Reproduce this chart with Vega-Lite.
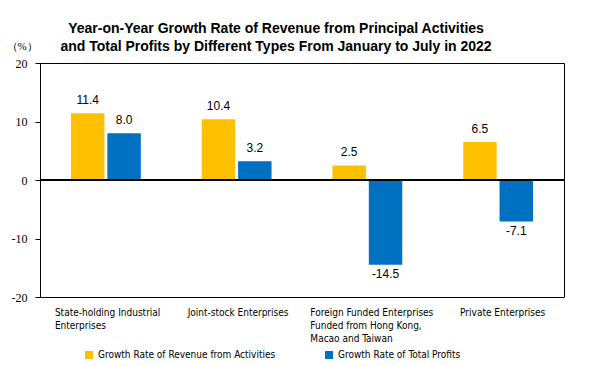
{
  "$schema": "https://vega.github.io/schema/vega-lite/v6.json",
  "width": 524,
  "height": 234,
  "autosize": "none",
  "padding": {"left": 40, "top": 63, "right": 26, "bottom": 69},
  "background": "white",
  "title": {
    "text": ["Year-on-Year Growth Rate of Revenue from Principal Activities", "and Total Profits by Different Types From January to July in 2022"],
    "font": "Liberation Sans",
    "fontSize": 14,
    "fontWeight": "bold",
    "color": "black",
    "anchor": "middle",
    "dx": -26,
    "dy": 28,
    "offset": 14,
    "lineHeight": 18
  },
  "config": {
    "view": {"stroke": "black", "strokeWidth": 1},
    "axis": {"grid": false},
    "locale": {
      "number": {"decimal": ".", "thousands": ",", "grouping": [3], "currency": ["$", ""], "minus": "-"}
    }
  },
  "data": {
    "values": [
      {"type": "State-holding Industrial|Enterprises", "series": "Growth Rate of Revenue from Activities", "value": 11.4},
      {"type": "State-holding Industrial|Enterprises", "series": "Growth Rate of Total Profits", "value": 8.0},
      {"type": "Joint-stock Enterprises", "series": "Growth Rate of Revenue from Activities", "value": 10.4},
      {"type": "Joint-stock Enterprises", "series": "Growth Rate of Total Profits", "value": 3.2},
      {"type": "Foreign Funded Enterprises|Funded from Hong Kong,|Macao and Taiwan", "series": "Growth Rate of Revenue from Activities", "value": 2.5},
      {"type": "Foreign Funded Enterprises|Funded from Hong Kong,|Macao and Taiwan", "series": "Growth Rate of Total Profits", "value": -14.5},
      {"type": "Private Enterprises", "series": "Growth Rate of Revenue from Activities", "value": 6.5},
      {"type": "Private Enterprises", "series": "Growth Rate of Total Profits", "value": -7.1}
    ]
  },
  "encoding": {
    "x": {
      "field": "type",
      "type": "nominal",
      "sort": null,
      "scale": {"paddingInner": 0.466, "paddingOuter": 0.237},
      "axis": {
        "title": null,
        "domain": false,
        "ticks": false,
        "labelAngle": 0,
        "labelAlign": "left",
        "labelBaseline": "top",
        "labelPadding": 10,
        "labelFont": "DejaVu Sans Condensed",
        "labelFontSize": 10,
        "labelColor": "black",
        "labelLineHeight": 13,
        "labelLimit": 200,
        "labelExpr": "split(datum.value, '|')",
        "labelOffset": {
          "condition": [
            {"test": "indexof(datum.value, 'State') == 0", "value": -51},
            {"test": "indexof(datum.value, 'Joint') == 0", "value": -49},
            {"test": "indexof(datum.value, 'Foreign') == 0", "value": -57}
          ],
          "value": -38
        }
      }
    },
    "xOffset": {
      "field": "series",
      "type": "nominal",
      "sort": null,
      "scale": {"paddingInner": 0.08}
    },
    "y": {
      "field": "value",
      "type": "quantitative",
      "scale": {"domain": [-20, 20], "nice": false},
      "axis": {
        "values": [-20, -10, 0, 10, 20],
        "title": "（%）",
        "titleAngle": 0,
        "titleX": -34,
        "titleY": -12,
        "titleAlign": "left",
        "titleFont": "Liberation Serif",
        "titleFontSize": 11,
        "titleFontWeight": "normal",
        "titleColor": "black",
        "labelFont": "Liberation Serif",
        "labelFontSize": 12,
        "labelColor": "black",
        "labelPadding": 8,
        "tickSize": 5,
        "tickColor": "black",
        "domainColor": "black"
      }
    }
  },
  "layer": [
    {
      "mark": {"type": "bar"},
      "encoding": {
        "color": {
          "field": "series",
          "type": "nominal",
          "sort": null,
          "scale": {"range": ["#FFC000", "#0070C0"]},
          "legend": {
            "title": null,
            "orient": "none",
            "legendX": 44,
            "legendY": 287,
            "direction": "horizontal",
            "symbolType": "square",
            "symbolSize": 64,
            "symbolStrokeWidth": 0,
            "labelFont": "DejaVu Sans Condensed",
            "labelFontSize": 10,
            "labelColor": "black",
            "labelLimit": 300,
            "columnPadding": 48,
            "padding": 0
          }
        }
      }
    },
    {
      "mark": {"type": "rule", "color": "black", "strokeWidth": 1},
      "encoding": {"y": {"datum": 0}, "x": null, "xOffset": null}
    },
    {
      "mark": {
        "type": "text",
        "font": "Liberation Sans",
        "fontSize": 12,
        "color": "black",
        "baseline": {"expr": "datum.value < 0 ? 'top' : 'bottom'"},
        "dy": {"expr": "datum.value < 0 ? 4 : -6"}
      },
      "encoding": {
        "text": {"field": "value", "type": "quantitative", "format": ".1f"}
      }
    }
  ]
}
